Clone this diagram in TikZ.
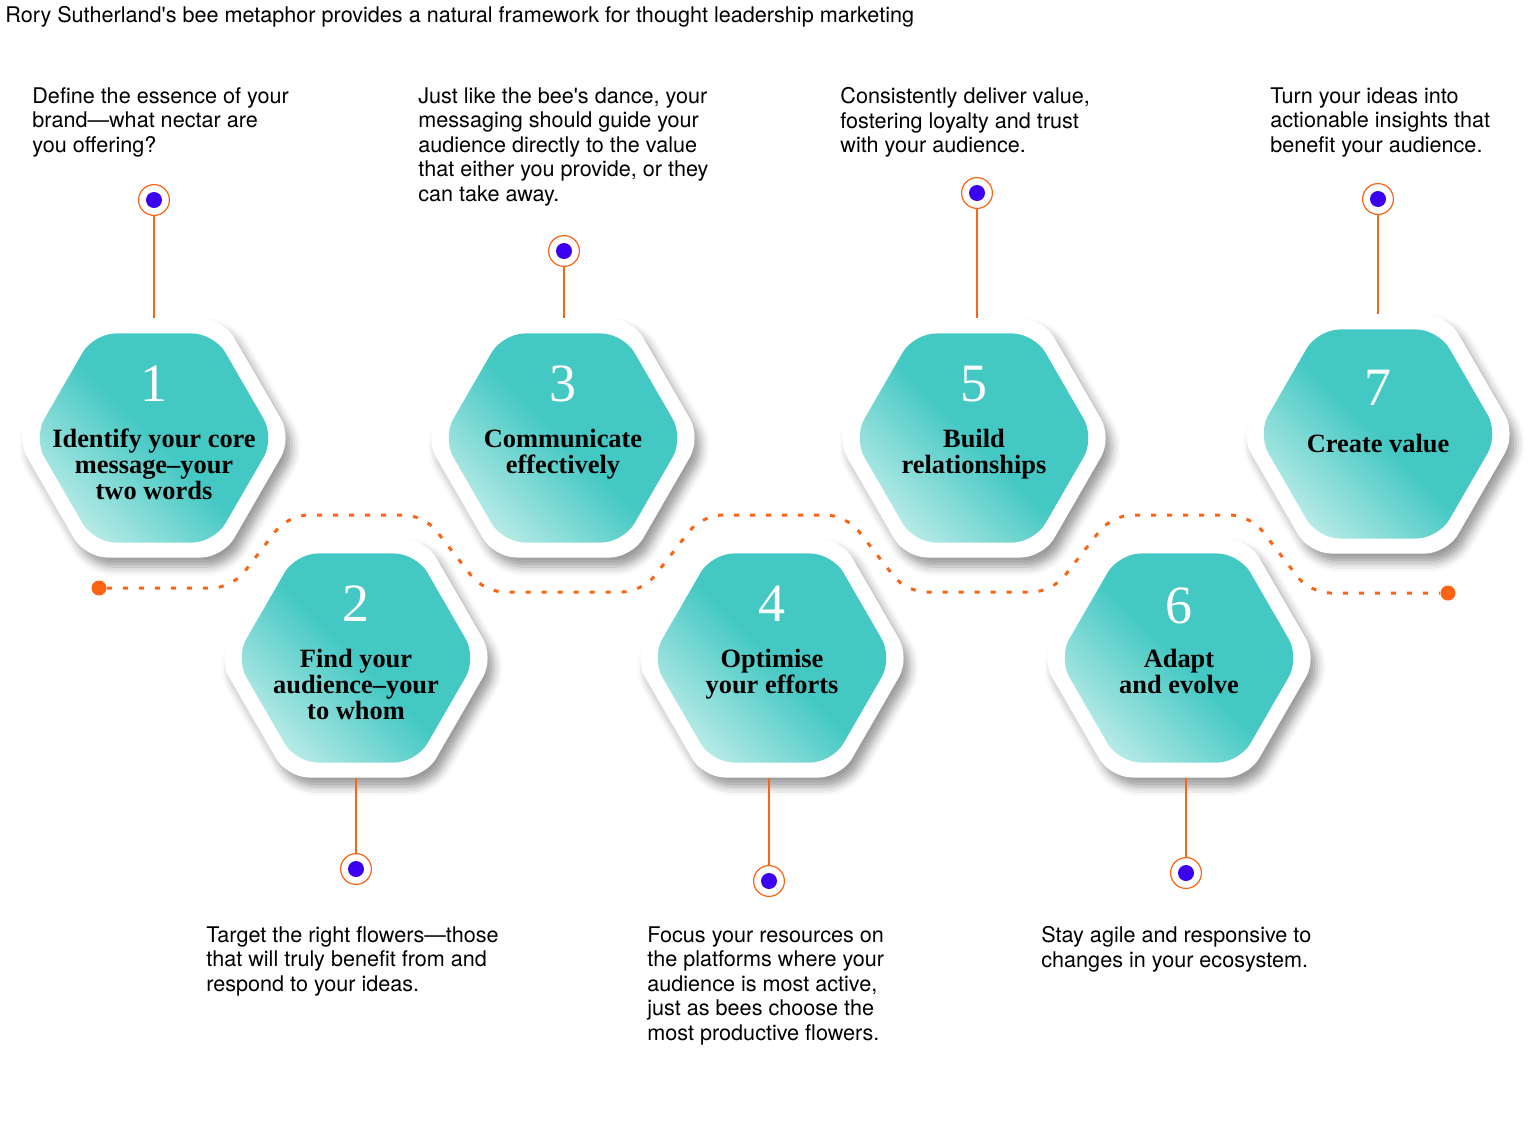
\documentclass[tikz,border=0pt]{standalone}
\usepackage{fontspec}
\setmainfont{Liberation Serif}
\newfontfamily\helv{TeX Gyre Heros}
\usetikzlibrary{shapes.geometric,shadows.blur}
\definecolor{tealc}{RGB}{68,200,195}
\definecolor{lightc}{RGB}{182,234,230}
\definecolor{orangec}{RGB}{250,100,20}
\definecolor{bluec}{RGB}{60,0,240}
\tikzset{
  hexout/.style={regular polygon, regular polygon sides=6, minimum size=138pt, inner sep=0pt, outer sep=0pt,
    fill=white, rounded corners=11pt,
    blur shadow={shadow xshift=3pt, shadow yshift=-4.5pt, shadow blur radius=4.5pt, shadow opacity=40}},
  hexin/.style={regular polygon, regular polygon sides=6, minimum size=120.7pt, inner sep=0pt, rounded corners=11pt,
    top color=tealc, bottom color=lightc, middle color=tealc, shading angle=-45},
  numtext/.style={text=white, inner sep=0pt, font=\fontsize{27}{27}\selectfont},
  hextext/.style={align=center, anchor=north, inner sep=0pt, font=\bfseries\fontsize{13.2}{13}\selectfont},
  desc/.style={align=left, anchor=north west, inner sep=0pt, font=\helv\fontsize{10.8}{12.25}\selectfont},
  marker/.style={circle, draw=orangec, line width=0.6pt, fill=white, minimum size=15.4pt, inner sep=0pt,
    path picture={\fill[bluec] (path picture bounding box.center) circle (4pt);}},
  stem/.style={draw=orangec, line width=0.6pt},
  enddot/.style={circle, fill=orangec, minimum size=7.5pt, inner sep=0pt},
  trail/.style={draw=orangec, line width=1.5pt, dash pattern=on 2.5pt off 5.5pt, rounded corners=10pt}
}
\begin{document}
\begin{tikzpicture}[x=0.5pt,y=-0.5pt]
\useasboundingbox (0,0) rectangle (1536,1136);

\node[anchor=base west, inner sep=0pt, font=\helv\fontsize{10.8}{12}\selectfont] (title) at (5,22.5)
  {Rory Sutherland's bee metaphor provides a natural framework for thought leadership marketing};

% hexagons
\foreach \i/\x/\y/\ny/\ty/\txt in {1/154/438/384/429/{Identify your core\\message–your\\two words},
    2/356/658/604/649/{Find your\\audience–your\\to whom},
    3/563/438/384/429/{Communicate\\effectively},
    4/772/658/604/649/{Optimise\\your efforts},
    5/974/438/384/429/{Build\\relationships},
    6/1179/658/606/649/{Adapt\\and evolve},
    7/1378/434/388/434/{Create value}}{
  \node[hexout] (h\i) at (\x,\y) {};
  \node[hexin] (c\i) at (h\i) {};
  \node[numtext] (n\i) at (\x,\ny) {\i};
  \node[hextext] (t\i) at (\x,\ty) {\txt};
}

% dotted path
\node[enddot] (p0) at (99,588) {};
\node[enddot] (p1) at (1448,593) {};
\draw[trail] (p0) -- (232,588) -- (288,515) -- (424,515) -- (484,592) -- (642,592) -- (702,515)
  -- (846,515) -- (906,592) -- (1052,592) -- (1112,515) -- (1250,515) -- (1310,593) -- (p1);

% markers
\foreach \i/\x/\y in {1/154/200,3/564/251,5/977/193,7/1378/199}{
  \node[marker] (m\i) at (\x,\y) {};
  \draw[stem] (m\i) -- (m\i |- h\i.north);
}
\foreach \i/\x/\y in {2/356/869,4/769/881,6/1186/873}{
  \node[marker] (m\i) at (\x,\y) {};
  \draw[stem] (m\i) -- (m\i |- h\i.south);
}

% texts
\node[desc] (d1) at (32,87) {Define the essence of your\\brand—what nectar are\\you offering?};
\node[desc] (d3) at (418,87) {Just like the bee's dance, your\\messaging should guide your\\audience directly to the value\\that either you provide, or they\\can take away.};
\node[desc] (d5) at (840,87) {Consistently deliver value,\\fostering loyalty and trust\\with your audience.};
\node[desc] (d7) at (1270,87) {Turn your ideas into\\actionable insights that\\benefit your audience.};
\node[desc] (d2) at (206,926) {Target the right flowers—those\\that will truly benefit from and\\respond to your ideas.};
\node[desc] (d4) at (647,926) {Focus your resources on\\the platforms where your\\audience is most active,\\just as bees choose the\\most productive flowers.};
\node[desc] (d6) at (1041,926) {Stay agile and responsive to\\changes in your ecosystem.};
\end{tikzpicture}
\end{document}
